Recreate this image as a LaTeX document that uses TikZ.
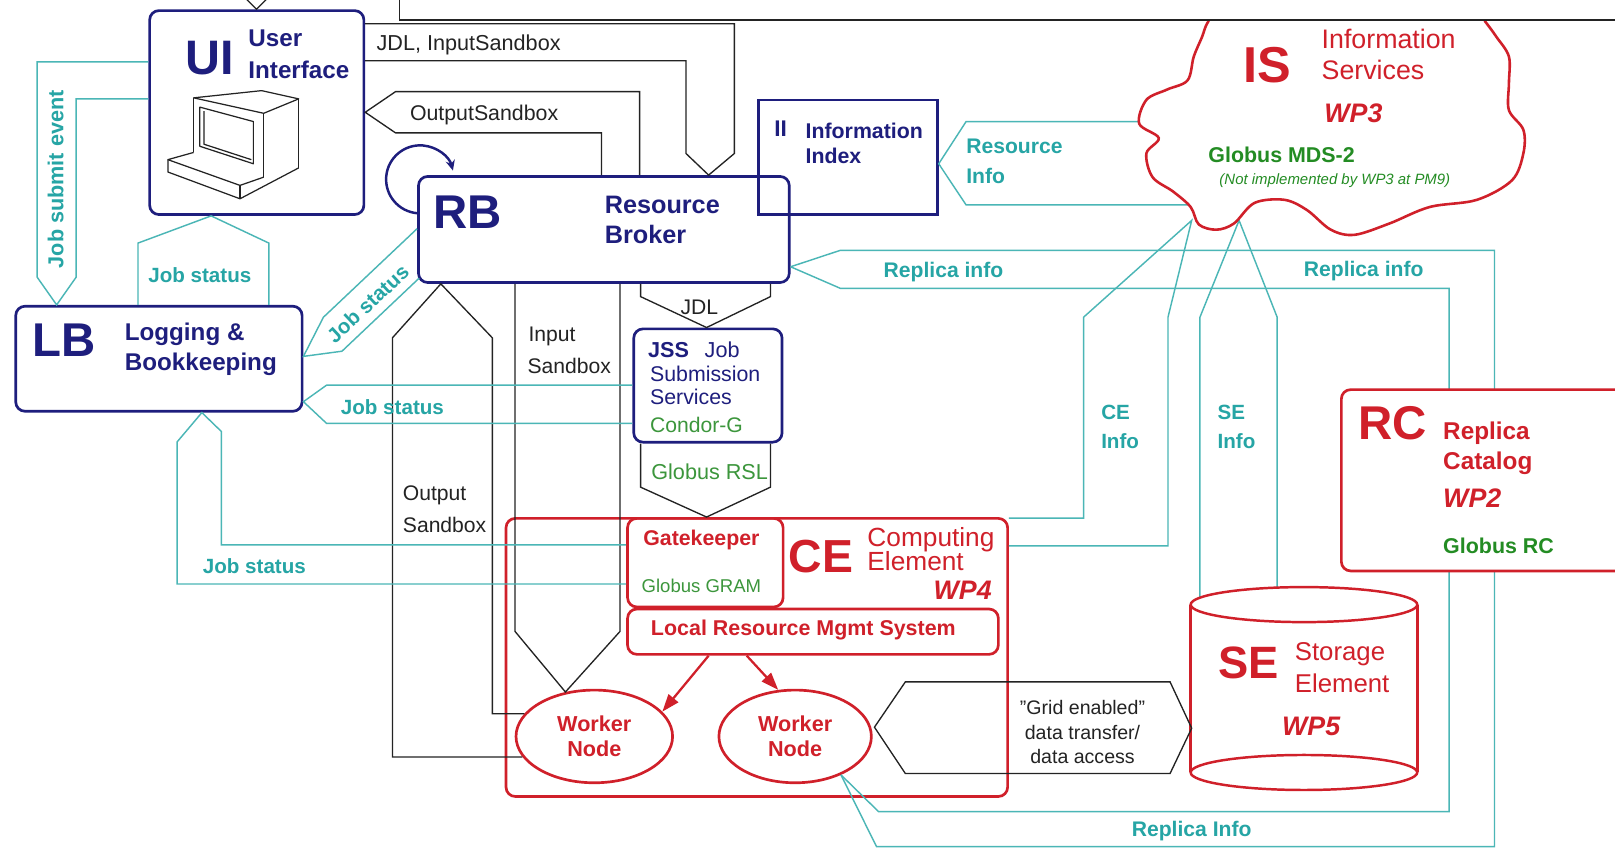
\documentclass[tikz,border=0pt]{standalone}
\usepackage{fontspec}
\setmainfont{Liberation Sans}
\usetikzlibrary{arrows.meta,shapes.geometric}
\definecolor{cNavy}{RGB}{30,30,125}
\definecolor{cRed}{RGB}{208,32,42}
\definecolor{cTealL}{RGB}{75,182,182}
\definecolor{cTealT}{RGB}{38,165,165}
\definecolor{cGreen}{RGB}{35,140,35}
\definecolor{cGreenL}{RGB}{60,150,60}
\definecolor{cBlk}{RGB}{35,35,35}
\tikzset{
  fr/.style={font=\fontsize{#1}{#1}\selectfont},
  fb/.style={font=\bfseries\fontsize{#1}{#1}\selectfont},
  fbi/.style={font=\bfseries\itshape\fontsize{#1}{#1}\selectfont},
  fi/.style={font=\itshape\fontsize{#1}{#1}\selectfont},
  lbl/.style={inner sep=0pt},
  lw/.style={inner sep=0pt, anchor=west},
  bluebox/.style={draw=cNavy, line width=2.6pt, rounded corners=9pt, inner sep=0pt, anchor=north west},
  redbox/.style={draw=cRed, line width=2.6pt, rounded corners=9pt, inner sep=0pt, anchor=north west},
  kconn/.style={draw=cBlk, line width=1.3pt, line join=miter},
  tconn/.style={draw=cTealL, line width=1.4pt, line join=miter},
  wn/.style={ellipse, draw=cRed, line width=2.6pt, fill=white, inner sep=0pt, align=center, text=cRed, font=\bfseries\fontsize{21}{24}\selectfont},
  pc/.style={draw=cBlk, line width=1.2pt, line join=round},
  redarrow/.style={draw=cRed, line width=2.2pt, -{Triangle[length=17pt,width=12pt]}},
}
\begin{document}
\begin{tikzpicture}[x=1pt,y=-1pt]
\useasboundingbox (0,0) rectangle (1568,824);
\fill[white] (0,0) rectangle (1568,824);

% ---------- main boxes (no fill) ----------
\node[bluebox, minimum width=208pt, minimum height=198pt] (ui) at (144,9) {};
\node[bluebox, minimum width=278pt, minimum height=102pt] (lb) at (14,296) {};
\node[bluebox, minimum width=360pt, minimum height=103pt] (rb) at (405,170) {};
\node[bluebox, sharp corners, line width=2.4pt, minimum width=174pt, minimum height=111pt] (ii) at (735,96) {};
\node[bluebox, minimum width=144pt, minimum height=110pt] (jss) at (614,318) {};
\node[redbox, minimum width=487pt, minimum height=270pt] (ce) at (490,502) {};
\node[redbox, minimum width=151pt, minimum height=86pt] (gk) at (608,502) {};
\node[redbox, minimum width=360pt, minimum height=44pt] (lrms) at (608,590) {};
\node[wn, minimum width=152pt, minimum height=90pt] (wn1) at (577,715) {Worker\\Node};
\node[wn, minimum width=148pt, minimum height=90pt] (wn2) at (772,715) {Worker\\Node};

% ---------- black connectors ----------
\draw[kconn] (ui.east |- 0,23) -- (713,23) -- (713,149) -- (rb.north -| 688,0) -- (666,149) -- (666,59) -- (ui.east |- 0,59);
\node[lbl, fr=21, text=cBlk] (t-jdlin) at (455,44) {JDL, InputSandbox};
\draw[kconn] (rb.north -| 621,0) -- (621,89) -- (384,89) -- (ui.east |- 0,109) -- (384,129) -- (584,129) -- (rb.north -| 584,0);
\node[lbl, fr=20.7, text=cBlk] (t-outsb) at (470,112) {OutputSandbox};
\draw[kconn] (rb.south -| 622,0) -- (622,288) -- (jss.north -| 686,0) -- (748,288) -- (rb.south -| 748,0);
\node[lbl, fr=20.5, text=cBlk] (t-jdl) at (679,298) {JDL};
\draw[kconn] (jss.south -| 622,0) -- (622,473) -- (ce.north -| 686,0) -- (748,473) -- (jss.south -| 748,0);
\node[lbl, fr=21, text=cGreenL] (t-rsl) at (689,458) {Globus RSL};
\draw[kconn] (rb.south -| 500,0) -- (500,613) -- (wn1.123) -- (602,613) -- (rb.south -| 602,0);
\node[lw, fr=20.5, text=cBlk] (t-in1) at (513,327) {Input};
\node[lw, fr=20.5, text=cBlk] (t-in2) at (512,355) {Sandbox};
\draw[kconn] (wn1.196) -- (381,0 |- wn1.196) -- (381,328) -- (rb.south -| 428,0) -- (478,328) -- (478,0 |- wn1.162) -- (wn1.162);
\node[lw, fr=20.5, text=cBlk] (t-out1) at (391,481) {Output};
\node[lw, fr=20.5, text=cBlk] (t-out2) at (391,510) {Sandbox};

% ---------- teal connectors ----------
\draw[tconn] (ui.west |- 0,60) -- (36,60) -- (36,269) -- (lb.north -| 55,0) -- (74,269) -- (74,96) -- (ui.west |- 0,96);
\node[lbl, fb=21, text=cTealT, rotate=90] (t-jse) at (54,174) {Job submit event};
\draw[tconn] (lb.north -| 134,0) -- (134,236) -- (ui.south -| 205,0) -- (261,236) -- (lb.north -| 261,0);
\node[lbl, fb=20, text=cTealT] (t-js1) at (194,267) {Job status};
\draw[tconn] (rb.west |- 0,222) -- (314,308) -- (lb.east |- 0,346) -- (332,341) -- (407,270);
\node[lbl, fb=20, text=cTealT, rotate=43] (t-js2) at (357,295) {Job status};
\draw[tconn] (jss.west |- 0,374) -- (317,374) -- (lb.east |- 0,390) -- (317,411) -- (jss.west |- 0,411);
\node[lbl, fb=20, text=cTealT] (t-js3) at (381,395) {Job status};
\draw[tconn] (gk.west |- 0,529) -- (215,529) -- (215,419) -- (lb.south -| 196,0) -- (172,429) -- (172,567) -- (gk.west |- 0,567);
\node[lbl, fb=20, text=cTealT] (t-js4) at (247,550) {Job status};
\draw[tconn] (1125,118) -- (938,118) -- (ii.east |- 0,159) -- (938,199) -- (1170,199);
\node[lw, fb=20.5, text=cTealT] (t-ri1) at (938,142) {Resource};
\node[lw, fb=20.5, text=cTealT] (t-ri2) at (938,171) {Info};
\draw[tconn] (rb.east |- 0,259) -- (816,243) -- (1451,243) -- (1451,822) -- (851,822) -- (wn2.320);
\draw[tconn] (rb.east |- 0,259) -- (816,280) -- (1407,280) -- (1407,788) -- (853,788) -- (wn2.320);
\node[lbl, fb=20.5, text=cTealT] (t-rep1) at (916,264) {Replica info};
\node[lbl, fb=20.5, text=cTealT] (t-rep2) at (1324,263) {Replica info};
\node[lbl, fb=20.5, text=cTealT] (t-rep3) at (1157,807) {Replica Info};
\draw[tconn] (ce.east |- 0,503) -- (1052,503) -- (1052,308) -- (1157,214) -- (1134,308) -- (1134,530) -- (ce.east |- 0,530);
\node[lw, fb=20, text=cTealT] (t-ce1) at (1069,400) {CE};
\node[lw, fb=20, text=cTealT] (t-ce2) at (1069,428) {Info};
\draw[tconn] (1165,587) -- (1165,308) -- (1203,214) -- (1240,308) -- (1240,587);
\node[lw, fb=20, text=cTealT] (t-se1) at (1182,400) {SE};
\node[lw, fb=20, text=cTealT] (t-se2) at (1182,428) {Info};

% ---------- box texts ----------
\node[lbl, fb=47, text=cNavy] (t-ui) at (204,56) {UI};
\node[lw, fb=23.5, text=cNavy] (t-ui1) at (241,37) {User};
\node[lw, fb=23.5, text=cNavy] (t-ui2) at (241,68) {Interface};
\node[lbl, fb=46, text=cNavy] (t-rb) at (454,206) {RB};
\node[lw, fb=24.5, text=cNavy] (t-rb1) at (587,199) {Resource};
\node[lw, fb=24.5, text=cNavy] (t-rb2) at (587,228) {Broker};
\node[lbl, fb=46, text=cNavy] (t-lb) at (62,330) {LB};
\node[lw, fb=23.5, text=cNavy] (t-lb1) at (121,325) {Logging \&};
\node[lw, fb=23.5, text=cNavy] (t-lb2) at (121,354) {Bookkeeping};
\node[lbl, fb=22, text=cNavy] (t-ii) at (758,125) {II};
\node[lw, fb=20.7, text=cNavy] (t-ii1) at (782,127) {Information};
\node[lw, fb=20.7, text=cNavy] (t-ii2) at (782,151) {Index};
\node[lw, fb=21, text=cNavy] (t-jss) at (629,340) {JSS};
\node[lw, fr=21, text=cNavy] (t-jss0) at (684,340) {Job};
\node[lw, fr=20.7, text=cNavy] (t-jss1) at (631,363) {Submission};
\node[lw, fr=20.7, text=cNavy] (t-jss2) at (631,385) {Services};
\node[lw, fr=20.5, text=cGreenL] (t-jss3) at (631,413) {Condor-G};
\node[lbl, fb=20.7, text=cRed] (t-gk1) at (681,524) {Gatekeeper};
\node[lbl, fr=18, text=cGreenL] (t-gk2) at (681,569) {Globus GRAM};
\node[lbl, fb=20.8, text=cRed] (t-lrms) at (780,612) {Local Resource Mgmt System};
\node[lbl, fb=45, text=cRed] (t-ce) at (797,540) {CE};
\node[lw, fr=25.5, text=cRed] (t-ce3) at (842,524) {Computing};
\node[lw, fr=25.5, text=cRed] (t-ce4) at (842,545) {Element};
\node[lbl, anchor=east, fbi=26, text=cRed] (t-wp4) at (963,573) {WP4};

% ---------- red arrows ----------
\draw[redarrow] (lrms.south -| 688,0) -- (wn1.20);
\draw[redarrow] (lrms.south -| 725,0) -- (wn2.110);

% ---------- IS cloud ----------
\draw[cRed, line width=2.5pt, fill=white] plot[smooth cycle, tension=0.55] coordinates {
 (1190,0) (1173,21) (1167,36) (1159,55) (1153,78) (1133,87) (1113,97) (1106,120) (1125,134)
 (1113,149) (1119,172) (1139,186) (1156,201) (1164,218) (1181,223) (1198,217) (1218,197)
 (1247,194) (1269,204) (1292,223) (1315,228) (1349,217) (1388,201) (1434,194) (1468,175)
 (1479,149) (1479,126) (1465,107) (1465,81) (1465,55) (1453,36) (1442,21) (1425,0) (1300,-20)};
\node[lbl, fb=49, text=cRed] (t-is) at (1230,63) {IS};
\node[lw, fr=26, text=cRed] (t-is1) at (1283,38) {Information};
\node[lw, fr=26, text=cRed] (t-is2) at (1283,68) {Services};
\node[lbl, fbi=26, text=cRed] (t-wp3) at (1314,110) {WP3};
\node[lw, fb=20.8, text=cGreen] (t-mds) at (1173,150) {Globus MDS-2};
\node[lbl, fi=14.5, text=cGreen] (t-not) at (1296,175) {(Not implemented by WP3 at PM9)};

% ---------- top box ----------
\node[draw=cBlk, line width=1.6pt, fill=white, inner sep=0pt, minimum width=1400pt, minimum height=100pt, anchor=south west] (topbox) at (387,20) {};
\draw[kconn] (238,-2) -- (ui.north -| 249,0) -- (260,-2);

% ---------- RC ----------
\node[redbox, fill=white, minimum width=400pt, minimum height=176pt] (rc) at (1301,377) {};
\node[lbl, fb=46, text=cRed] (t-rc) at (1352,411) {RC};
\node[lw, fb=23.6, text=cRed] (t-rc1) at (1401,421) {Replica};
\node[lw, fb=23.6, text=cRed] (t-rc2) at (1401,450) {Catalog};
\node[lw, fbi=26, text=cRed] (t-wp2) at (1401,484) {WP2};
\node[lw, fb=20.8, text=cGreen] (t-rc3) at (1401,530) {Globus RC};

% ---------- SE cylinder ----------
\coordinate (se) at (1266,668);
\fill[white] (1156,587) rectangle (1376,750);
\fill[white] (1266,587) ellipse[x radius=110pt, y radius=17pt];
\fill[white] (1266,750) ellipse[x radius=110pt, y radius=17pt];
\draw[cRed, line width=2.4pt] (1266,587) ellipse[x radius=110pt, y radius=17pt];
\draw[cRed, line width=2.4pt] (1266,750) ellipse[x radius=110pt, y radius=17pt];
\draw[cRed, line width=2.4pt] (1156,587) -- (1156,750) (1376,587) -- (1376,750);
\node[lbl, fb=44, text=cRed] (t-se) at (1212,644) {SE};
\node[lw, fr=25, text=cRed] (t-se3) at (1257,635) {Storage};
\node[lw, fr=25, text=cRed] (t-se4) at (1257,663) {Element};
\node[lbl, fbi=26, text=cRed] (t-wp5) at (1273,705) {WP5};

% ---------- grid enabled arrow ----------
\draw[kconn] (849,706) -- (879,662) -- (1136,662) -- (1157,707) -- (1136,751) -- (879,751) -- cycle;
\node[lbl, fr=19, text=cBlk] (t-g1) at (1051,687) {\char34 Grid enabled\char34};
\node[lbl, fr=19, text=cBlk] (t-g2) at (1051,711) {data transfer/};
\node[lbl, fr=19, text=cBlk] (t-g3) at (1051,734) {data access};

% ---------- self loop on RB ----------
\draw[cNavy, line width=2.4pt, -{Stealth[length=10pt,width=9pt]}] (405,207) arc[start angle=265, end angle=15, radius=33pt];

% ---------- computer ----------
\draw[pc] (188,95) -- (254,88) -- (290,96) -- (256,110) -- cycle;
\draw[pc] (188,95) -- (188,148);
\draw[pc] (256,110) -- (256,172);
\draw[pc] (290,96) -- (290,163);
\draw[pc] (194,104) -- (246,118) -- (246,159) -- (194,142) -- cycle;
\draw[pc] (198,108) -- (198,140) -- (244,155);
\draw[pc] (188,148) -- (163,155) -- (233,180) -- (256,172);
\draw[pc] (163,155) -- (163,167) -- (233,193) -- (290,163);
\draw[pc] (233,180) -- (233,193);
\end{tikzpicture}
\end{document}
